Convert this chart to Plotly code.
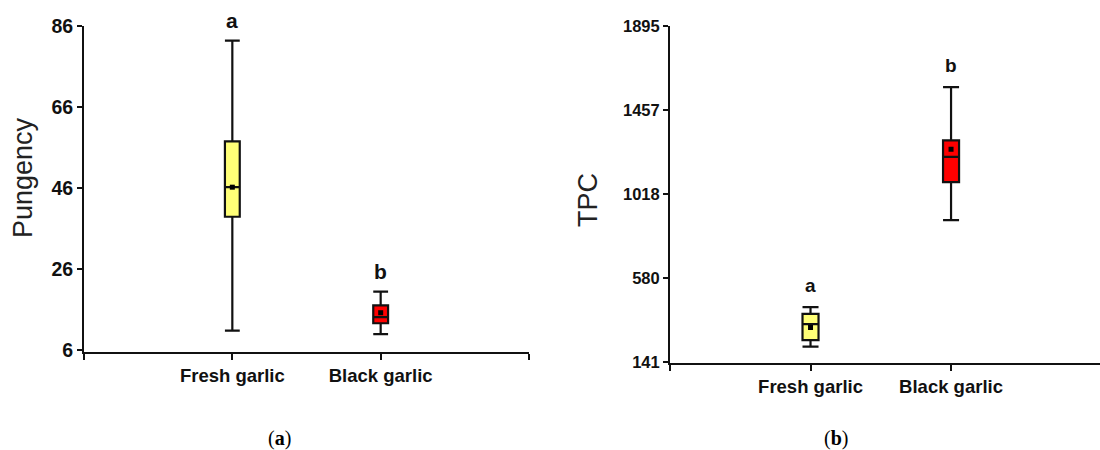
import plotly.graph_objects as go

# ---------------- data ----------------
categories = ["Fresh garlic", "Black garlic"]

# Panel (a) Pungency
pung_lower = [10.8, 9.9]
pung_q1 = [38.9, 12.6]
pung_median = [46.2, 14.1]
pung_q3 = [57.5, 17.0]
pung_upper = [82.4, 20.4]
pung_mean = [46.2, 15.2]
pung_letters = ["a", "b"]
pung_ticks = [6, 26, 46, 66, 86]

# Panel (b) TPC
tpc_lower = [221, 881]
tpc_q1 = [255, 1080]
tpc_median = [338, 1212]
tpc_q3 = [392, 1298]
tpc_upper = [427, 1576]
tpc_mean = [321, 1251]
tpc_letters = ["a", "b"]
tpc_ticks = [141, 580, 1018, 1457, 1895]

fills = ["#FFFF77", "#FF0000"]
subcaptions = ["a", "b"]

W, H = 1100, 450
pos = list(range(len(categories)))

fig = go.Figure()

def add_panel(xa, ya, lower, q1, med, q3, upper, mean, width):
    xref = "x" if xa == 1 else f"x{xa}"
    yref = "y" if ya == 1 else f"y{ya}"
    for i, c in enumerate(categories):
        fig.add_trace(go.Box(
            x=[pos[i]], q1=[q1[i]], median=[med[i]], q3=[q3[i]],
            lowerfence=[lower[i]], upperfence=[upper[i]],
            width=width, whiskerwidth=1,
            fillcolor=fills[i], line=dict(color="#111111", width=2.2),
            boxpoints=False, showlegend=False, hoverinfo="skip",
            xaxis=xref, yaxis=yref,
        ))
    fig.add_trace(go.Scatter(
        x=pos, y=mean, mode="markers",
        marker=dict(symbol="square", size=5, color="#000000"),
        showlegend=False, hoverinfo="skip", xaxis=xref, yaxis=yref,
    ))

add_panel(1, 1, pung_lower, pung_q1, pung_median, pung_q3, pung_upper, pung_mean, 0.1)
add_panel(2, 2, tpc_lower, tpc_q1, tpc_median, tpc_q3, tpc_upper, tpc_mean, 0.114)

annotations = []
for i in range(len(categories)):
    annotations.append(dict(x=pos[i], y=pung_upper[i], xref="x", yref="y",
                            text=pung_letters[i], showarrow=False, yshift=20,
                            font=dict(family="Liberation Sans", size=21, color="#111111", weight="bold")))
    annotations.append(dict(x=pos[i], y=tpc_upper[i], xref="x2", yref="y2",
                            text=tpc_letters[i], showarrow=False, yshift=22,
                            font=dict(family="Liberation Sans", size=19, color="#111111", weight="bold")))

# subcaptions
for cx, s in zip([280 / W, 836 / W], subcaptions):
    annotations.append(dict(x=cx, y=1 - 438 / H, xref="paper", yref="paper",
                            xanchor="center", yanchor="middle",
                            text=f"(<b>{s}</b>)", showarrow=False,
                            font=dict(family="Liberation Serif", size=20, color="#000000")))

# y-axis titles
annotations.append(dict(x=23 / W, y=1 - 178 / H, xref="paper", yref="paper",
                        xanchor="center", yanchor="middle",
                        text="Pungency", textangle=-90, showarrow=False,
                        font=dict(family="Liberation Sans", size=27, color="#222222")))
annotations.append(dict(x=588 / W, y=1 - 200 / H, xref="paper", yref="paper",
                        xanchor="center", yanchor="middle",
                        text="TPC", textangle=-90, showarrow=False,
                        font=dict(family="Liberation Sans", size=27, color="#222222")))

common_x = dict(showgrid=False, zeroline=False, showline=True, linecolor="#111111", linewidth=2,
                ticks="outside", ticklen=6, tickwidth=2, tickcolor="#111111", automargin=False,
                tickfont=dict(family="Liberation Sans", size=18.5, color="#111111", weight="bold"))
common_y = dict(showgrid=False, zeroline=False, showline=True, linecolor="#111111", linewidth=2,
                ticks="outside", ticklen=5, tickwidth=2, tickcolor="#111111", automargin=False)

fig.update_layout(
    width=W, height=H,
    margin=dict(l=0, r=0, t=0, b=0, autoexpand=False),
    paper_bgcolor="white", plot_bgcolor="white",
    xaxis=dict(domain=[84 / W, 529 / W], range=[-1, 2], anchor="y",
               tickvals=[-1] + pos + [len(categories)], ticktext=[""] + categories + [""],
               **common_x),
    yaxis=dict(domain=[1 - 352 / H, 1 - 26 / H], range=[5.5, 86], anchor="x",
               tickvals=pung_ticks,
               tickfont=dict(family="Liberation Sans", size=19.5, color="#111111", weight="bold"),
               **common_y),
    xaxis2=dict(domain=[670 / W, 1.0], range=[-1, 2.06], anchor="y2",
                tickvals=[-1] + pos, ticktext=[""] + categories,
                **common_x),
    yaxis2=dict(domain=[1 - 362.5 / H, 1 - 26 / H], range=[138, 1895], anchor="x2",
                tickvals=tpc_ticks,
                tickfont=dict(family="Liberation Sans", size=16.5, color="#111111", weight="bold"),
                **common_y),
    annotations=annotations,
)

fig.write_html("out.html", config={"displayModeBar": False},
               post_script="document.body.style.margin='0';document.body.style.overflow='hidden';")
